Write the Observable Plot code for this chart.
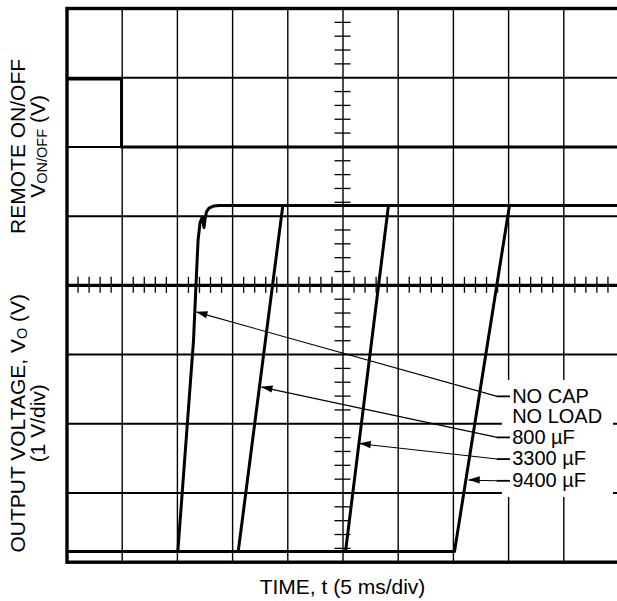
<!DOCTYPE html>
<html><head><meta charset="utf-8">
<script src="https://cdn.jsdelivr.net/npm/d3@7"></script>
<script src="https://cdn.jsdelivr.net/npm/@observablehq/plot@0.6"></script>
<style>html,body{margin:0;padding:0;background:#fff;overflow:hidden}</style>
</head><body><div id="chart"></div>
<script>
// x: time in ms (5 ms/div, 10 div); y: screen divisions (8 div, 1 V/div for Vo)
const VO_ZERO_DIV = 0.155;           // 0 V level of the output trace, in divisions
const timeGrid = [0, 5, 10, 15, 20, 25, 30, 35, 40, 45, 50];
const divGrid = [0, 1, 2, 3, 4, 5, 6, 7, 8];
const minorT = d3.range(0, 51).filter(t => t % 5 !== 0);
const minorDiv = d3.range(0, 41).filter(i => i % 5 !== 0).map(i => i / 5);

// Remote ON/OFF trace (divisions)
const remoteT   = [0, 4.94, 4.94, 50];
const remoteDiv = [6.98, 6.98, 6.0, 6.0];

// Output voltage traces (ms, V)
const noCapT = [0, 10.04, 11.46, 11.68, 11.87, 12.05, 12.25, 12.41, 12.50, 12.64, 12.86, 13.27, 13.81, 50];
const noCapV = [0, 0, 3.05, 3.84, 4.49, 4.75, 4.83, 4.68, 4.80, 4.91, 4.96, 4.99, 5.0, 5.0];
const c800T  = [0, 15.51, 19.55, 50];
const c800V  = [0, 0, 5, 5];
const c3300T = [0, 25.23, 29.12, 50];
const c3300V = [0, 0, 5, 5];
const c9400T = [0, 35.10, 40.08, 50];
const c9400V = [0, 0, 5, 5];

// Annotation labels
const labelNames = ["NO CAP", "NO LOAD", "800 \u00b5F", "3300 \u00b5F", "9400 \u00b5F"];
const labelDiv   = [2.396, 2.101, 1.803, 1.490, 1.176];
const labelT     = 40.32;
const leaderFromT = 38.97, dashToT = 40.17;
const leaderDiv = [2.396, 1.803, 1.490, 1.176];
const tipT      = [11.73, 17.62, 26.52, 36.39];
const tipDiv    = [3.613, 2.529, 1.711, 1.185];
const labelBox  = {x1: 39.44, x2: 49.5, y1: 0.935, y2: 2.626};

const traces = [
  ...noCapT.map((t, i) => ({s: "nocap", t, d: noCapV[i] + VO_ZERO_DIV})),
  ...c800T.map((t, i) => ({s: "800", t, d: c800V[i] + VO_ZERO_DIV})),
  ...c3300T.map((t, i) => ({s: "3300", t, d: c3300V[i] + VO_ZERO_DIV})),
  ...c9400T.map((t, i) => ({s: "9400", t, d: c9400V[i] + VO_ZERO_DIV})),
  ...remoteT.map((t, i) => ({s: "remote", t, d: remoteDiv[i]}))
];
const leaders = leaderDiv.map((d, i) => ({x1: tipT[i], y1: tipDiv[i], x2: leaderFromT, y2: d}));
const labels = labelNames.map((n, i) => ({n, d: labelDiv[i]}));

const TICK_T = 0.725, TICK_D = 0.1156; // half-length of center-axis ticks (8 px)
const FS = 21, LFS = 20;

const plot = Plot.plot({
  width: 617, height: 601,
  marginLeft: 66.5, marginRight: -1.5, marginTop: 8, marginBottom: 39.3,
  x: {domain: [0, 50], axis: null},
  y: {domain: [0, 8], axis: null},
  style: {fontFamily: "'Liberation Sans', Arial, sans-serif", background: "white"},
  marks: [
    Plot.ruleX(timeGrid.filter(t => t > 0 && t < 50), {x: d => d, stroke: "black", strokeWidth: 1.4}),
    Plot.ruleY(divGrid.filter(d => d > 0 && d < 8 && d !== 4), {y: d => d, stroke: "black", strokeWidth: 2}),
    Plot.ruleY([4], {y: d => d, stroke: "black", strokeWidth: 3.2}),
    Plot.ruleX(minorT, {x: d => d, y1: 4 - TICK_D, y2: 4 + TICK_D, stroke: "black", strokeWidth: 1.3}),
    Plot.ruleY(minorDiv, {y: d => d, x1: 25 - TICK_T, x2: 25 + TICK_T, stroke: "black", strokeWidth: 1.3}),
    Plot.frame({stroke: "black", strokeWidth: 3.4}),
    Plot.rect([labelBox], {x1: "x1", x2: "x2", y1: "y1", y2: "y2", fill: "white"}),
    Plot.line(traces, {x: "t", y: "d", z: "s", stroke: "black", strokeWidth: 3, strokeLinejoin: "round", strokeLinecap: "butt"}),
    Plot.link(leaders, {x1: "x1", y1: "y1", x2: "x2", y2: "y2", stroke: "black", strokeWidth: 1.1}),
    Plot.ruleY(leaderDiv, {y: d => d, x1: leaderFromT, x2: dashToT, stroke: "black", strokeWidth: 1.8}),
    Plot.text(labels, {x: labelT, y: "d", text: "n", textAnchor: "start", lineAnchor: "middle", fontSize: LFS, fill: "black"})
  ]
});
document.getElementById("chart").append(plot);

// Arrowheads and axis titles via the plot's own scales
const sx = plot.scale("x"), sy = plot.scale("y");
const svg = d3.select(plot);
const g = svg.append("g");
leaders.forEach(l => {
  const tx = sx.apply(l.x1), ty = sy.apply(l.y1);
  const fx = sx.apply(l.x2), fy = sy.apply(l.y2);
  const len = Math.hypot(tx - fx, ty - fy), ux = (tx - fx) / len, uy = (ty - fy) / len;
  const L = 11.5, W = 3.6, bx = tx - ux * L, by = ty - uy * L;
  g.append("path").attr("d", `M${tx},${ty}L${bx - uy * W},${by + ux * W}L${bx + uy * W},${by - ux * W}Z`).attr("fill", "black");
});
const font = "'Liberation Sans', Arial, sans-serif";
const left = sx.apply(0);
function vtitle(yc, xb, parts) {
  const t = svg.append("text").attr("transform", `translate(${xb},${yc}) rotate(-90)`)
    .attr("text-anchor", "middle").attr("font-family", font).attr("font-size", FS).attr("fill", "black");
  parts.forEach(p => {
    const ts = t.append("tspan").text(p.s);
    if (p.sub) ts.attr("font-size", 14.5).attr("dy", 2);
    else if (p.after) ts.attr("dy", -2);
  });
}
vtitle(sy.apply(6), left - 42, [{s: "REMOTE ON/OFF"}]);
vtitle(sy.apply(6), left - 21.5, [{s: "V"}, {s: "ON/OFF", sub: true}, {s: " (V)", after: true}]);
vtitle(sy.apply(2), left - 42, [{s: "OUTPUT VOLTAGE, V"}, {s: "O", sub: true}, {s: " (V)", after: true}]);
vtitle(sy.apply(2), left - 21.5, [{s: "(1 V/div)"}]);
svg.append("text").attr("x", sx.apply(25)).attr("y", sy.apply(0) + 32.5)
  .attr("text-anchor", "middle").attr("font-family", font).attr("font-size", FS).attr("fill", "black")
  .text("TIME, t (5 ms/div)");
</script></body></html>
